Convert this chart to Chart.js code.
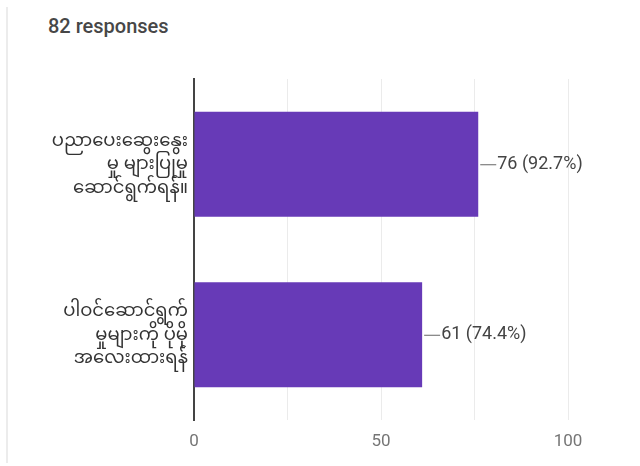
<!DOCTYPE html>
<html>
<head>
<meta charset="utf-8">
<script src="https://cdn.jsdelivr.net/npm/chart.js@4/dist/chart.umd.min.js"></script>
<style>
  html, body { margin: 0; padding: 0; background: #fff; width: 640px; height: 466px; overflow: hidden; }
  #wrap { position: relative; width: 640px; height: 466px; }
  #card { position: absolute; left: 6px; top: 7px; width: 2px; height: 456px; background: #ececec; }
  #title { position: absolute; left: 48px; top: 15px; font-family: Roboto, "Noto Sans", sans-serif; font-size: 20px; font-weight: 500; color: #474747; line-height: 22px; }
  canvas { position: absolute; left: 0; top: 0; }
</style>
</head>
<body>
<div id="wrap">
  <div id="card"></div>
  <div id="title">82 responses</div>
  <canvas id="c" width="640" height="466"></canvas>
</div>
<script>
const categories = [
  ["ပညာပေးဆွေးနွေး", "မှု များပြုမှု", "ဆောင်ရွက်ရန်။"],
  ["ပါဝင်ဆောင်ရွက်", "မှုများကို ပိုမို", "အလေးထားရန်"]
];
const counts = [76, 61];
const percents = ["92.7%", "74.4%"];
const xTicks = [0, 50, 100];

const valueLabels = {
  id: 'valueLabels',
  afterDatasetsDraw(chart) {
    const ctx = chart.ctx;
    const meta = chart.getDatasetMeta(0);
    ctx.save();
    meta.data.forEach((bar, i) => {
      const x = bar.x, y = bar.y;
      ctx.strokeStyle = '#666';
      ctx.lineWidth = 1;
      ctx.beginPath();
      ctx.moveTo(x + 2, y + 0.5);
      ctx.lineTo(x + 18, y + 0.5);
      ctx.stroke();
      ctx.fillStyle = '#444';
      ctx.font = '18px Roboto, "Noto Sans", sans-serif';
      ctx.textAlign = 'left';
      ctx.textBaseline = 'middle';
      ctx.fillText(counts[i] + ' (' + percents[i] + ')', x + 19, y);
    });
    ctx.restore();
  }
};

new Chart(document.getElementById('c'), {
  type: 'bar',
  data: {
    labels: categories,
    datasets: [{
      data: counts,
      backgroundColor: '#673ab7',
      borderWidth: 0,
      barPercentage: 0.615,
      categoryPercentage: 1
    }]
  },
  options: {
    indexAxis: 'y',
    responsive: false,
    animation: false,
    devicePixelRatio: 1,
    layout: { padding: { left: 0, right: 72, top: 79, bottom: 0 } },
    plugins: { legend: { display: false }, tooltip: { enabled: false }, title: { display: false } },
    scales: {
      x: {
        min: 0, max: 100,
        afterFit(s) { s.height = 46; },
        afterBuildTicks(s) { s.ticks = [0, 25, 50, 75, 100].map(v => ({ value: v })); },
        ticks: {
          padding: 12,
          color: '#757575',
          maxRotation: 0,
          font: { family: 'Roboto, "Noto Sans", sans-serif', size: 17 },
          callback: (v) => xTicks.includes(v) ? String(v) : ''
        },
        grid: { color: '#ebebeb', lineWidth: 1, drawTicks: false },
        border: { display: false }
      },
      y: {
        afterFit(s) { s.width = 194; },
        ticks: {
          padding: 6,
          color: '#333',
          font: { family: '"Noto Sans", "Noto Sans Myanmar", Padauk, sans-serif', size: 18, lineHeight: 1.3 }
        },
        grid: { display: false, drawTicks: false },
        border: { display: true, color: '#444', width: 2 }
      }
    }
  },
  plugins: [valueLabels]
});
</script>
</body>
</html>
